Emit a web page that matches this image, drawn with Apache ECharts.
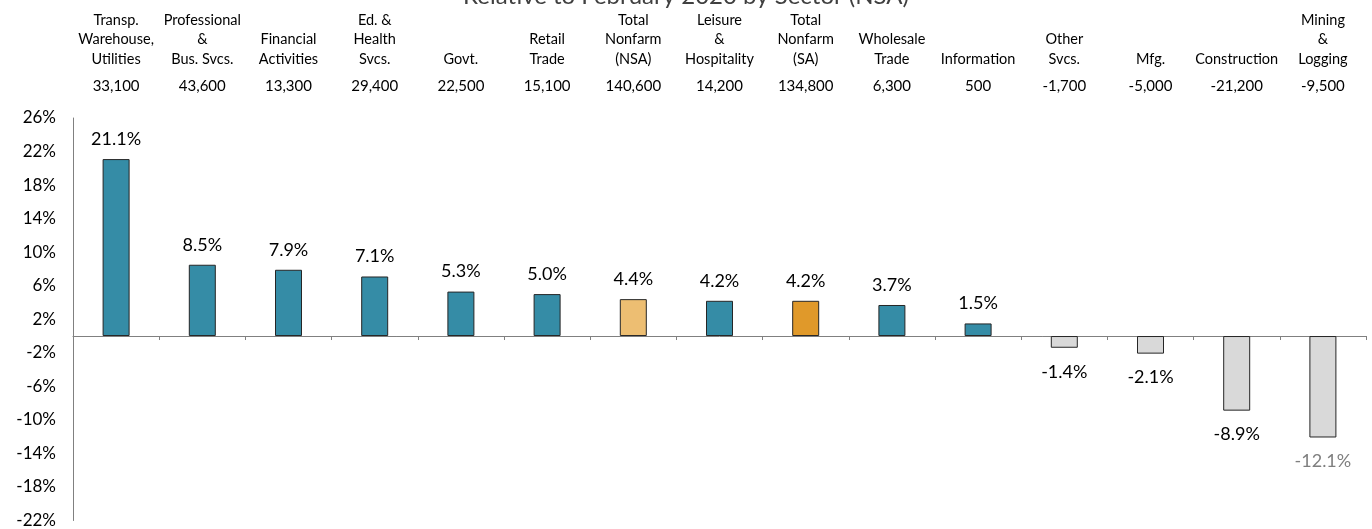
<!DOCTYPE html>
<html>
<head>
<meta charset="utf-8">
<script src="https://cdn.jsdelivr.net/npm/echarts@6/dist/echarts.min.js"></script>
<style>html,body{margin:0;padding:0;background:#fff}#c{width:1372px;height:529px}</style>
</head>
<body>
<div id="c"></div>
<script>
const categories = [
  "Transp.\nWarehouse,\nUtilities",
  "Professional\n&\nBus. Svcs.",
  "Financial\nActivities",
  "Ed. &\nHealth\nSvcs.",
  "Govt.",
  "Retail\nTrade",
  "Total\nNonfarm\n(NSA)",
  "Leisure\n&\nHospitality",
  "Total\nNonfarm\n(SA)",
  "Wholesale\nTrade",
  "Information",
  "Other\nSvcs.",
  "Mfg.",
  "Construction",
  "Mining\n&\nLogging"
];
const jobChanges = ["33,100","43,600","13,300","29,400","22,500","15,100","140,600","14,200","134,800","6,300","500","-1,700","-5,000","-21,200","-9,500"];
const pctChange = [21.1, 8.5, 7.9, 7.1, 5.3, 5.0, 4.4, 4.2, 4.2, 3.7, 1.5, -1.4, -2.1, -8.9, -12.1];
const titleText = "Relative to February 2020 by Sector (NSA)";
const nsaTotal = "Total\nNonfarm\n(NSA)";
const saTotal = "Total\nNonfarm\n(SA)";

const FONT = "Lato";
const BLUE = "#358CA6", LIGHT_ORANGE = "#EDBE72", DARK_ORANGE = "#E0992A", GREY = "#D9D9D9";

function colorFor(name, v) {
  if (name === nsaTotal) return LIGHT_ORANGE;
  if (name === saTotal) return DARK_ORANGE;
  return v < 0 ? GREY : BLUE;
}

const barData = pctChange.map((v, i) => ({
  value: v,
  itemStyle: { color: colorFor(categories[i], v) },
  label: {
    position: v < 0 ? 'bottom' : 'top',
    distance: v < 0 ? 15 : 11,
    color: (v <= -12) ? '#7f7f7f' : '#000'
  }
}));

const chart = echarts.init(document.getElementById('c'));
chart.setOption({
  animation: false,
  textStyle: { fontFamily: FONT },
  title: {
    text: titleText, left: 'center', top: -16, padding: 0,
    textStyle: { fontFamily: FONT, fontSize: 24, fontWeight: 'normal', color: '#404040' }
  },
  grid: { left: 73, right: 6, top: 118, bottom: 7, containLabel: false },
  xAxis: [
    {
      type: 'category', data: categories, position: 'bottom',
      axisLine: { onZero: true, lineStyle: { color: '#808080', width: 1 } },
      axisTick: { show: true, length: 4, interval: 0, lineStyle: { color: '#808080' } },
      axisLabel: { show: false }
    },
    {
      type: 'category', data: jobChanges, position: 'top',
      axisLine: { show: false }, axisTick: { show: false },
      axisLabel: { interval: 0, fontSize: 15, color: '#000', margin: 24, fontFamily: FONT }
    },
    {
      type: 'category', data: categories, position: 'top',
      axisLine: { show: false }, axisTick: { show: false },
      axisLabel: { interval: 0, fontSize: 14.5, lineHeight: 19.5, color: '#000', margin: 49, fontFamily: FONT, align: 'center' }
    }
  ],
  yAxis: {
    type: 'value', min: -22, max: 26, interval: 4,
    axisLine: { show: true, lineStyle: { color: '#808080' } },
    axisTick: { show: false },
    splitLine: { show: false },
    axisLabel: { formatter: '{value}%', fontSize: 17, color: '#000', margin: 17, fontFamily: FONT }
  },
  series: [{
    type: 'bar', xAxisIndex: 0, data: barData, barWidth: 27,
    itemStyle: { borderColor: '#262626', borderWidth: 1 },
    label: {
      show: true, fontSize: 18, fontFamily: FONT,
      formatter: p => p.value.toFixed(1) + '%'
    }
  }]
});
</script>
</body>
</html>
